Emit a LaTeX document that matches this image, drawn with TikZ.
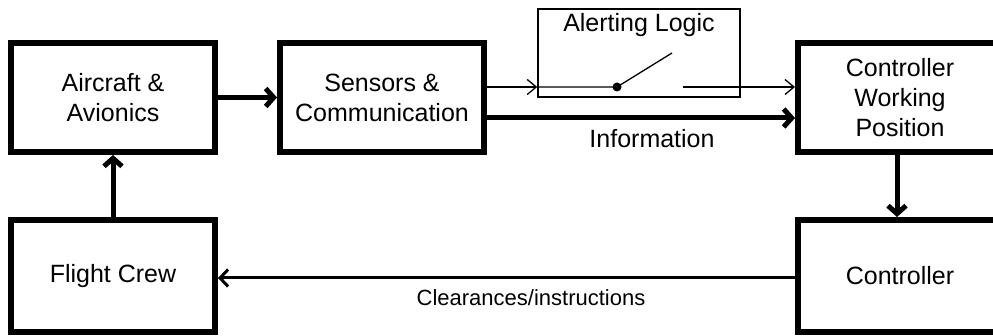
\documentclass[tikz,border=0pt]{standalone}
\usepackage{fontspec}
\setmainfont{Liberation Sans}
\usetikzlibrary{arrows.meta}

\tikzset{
  blk/.style={draw,line width=6pt,minimum width=204pt,minimum height=109pt,
    inner sep=0pt,align=center,font=\fontsize{25}{30}\selectfont},
  txt/.style={inner sep=0pt,anchor=base,font=\fontsize{25}{30}\selectfont},
  thk/.style={line width=5pt,-{Straight Barb[length=8pt,width=18pt]}},
  thn/.style={line width=1.3pt,-{Straight Barb[length=9pt,width=15pt]}},
  mid/.style={line width=3pt,-{Straight Barb[length=8pt,width=17pt]}}
}

\begin{document}
\begin{tikzpicture}[x=1pt,y=1pt]
    \clip (0,0) rectangle (993,336);
    \fill[white] (0,0) rectangle (993,336);

    \node[blk] (air) at (113,238.5) {Aircraft \&\\Avionics};
    \node[blk] (sens) at (382,238.5) {Sensors \&\\Communication};
    \node[blk] (cwp) at (900,238.5) {Controller\\Working\\Position};
    \node[blk,minimum height=112pt] (crew) at (113,60) {Flight Crew};
    \node[blk,minimum height=112pt] (ctrl) at (900,60) {Controller};

    \node[draw,line width=1.5pt,minimum width=202pt,minimum height=88pt] (alert) at (639,283) {};
    \node[txt] (alerttxt) at (639,304) {Alerting Logic};

    % switch inside the alerting logic
    \coordinate (pivot) at (617,249);
    \coordinate (swend) at (672,283);
    \coordinate (swout) at (683,249);
    \draw[thn] (sens.east |- pivot) -- (alert.west |- pivot);
    \draw[line width=1.3pt] (alert.west |- pivot) -- (pivot) -- (swend);
    \fill (pivot) circle (4.5);
    \draw[thn] (swout) -- (cwp.west |- swout);

    \draw[thk] (air) -- (sens);
    \draw[thk] ([yshift=-20.5pt]sens.east) -- ([yshift=-20.5pt]sens.east -| cwp.west);
    \node[txt] (infotxt) at (652,188) {Information};
    \draw[thk] (cwp.south -| 897,0) -- (ctrl.north -| 897,0);
    \draw[thk] (crew) -- (air);

    \draw[mid] ([yshift=-2pt]ctrl.west) -- ([yshift=-2pt]ctrl.west -| crew.east);
    \node[txt,font=\fontsize{22}{26}\selectfont] (cleartxt) at (531,30) {Clearances/instructions};
\end{tikzpicture}
\end{document}
